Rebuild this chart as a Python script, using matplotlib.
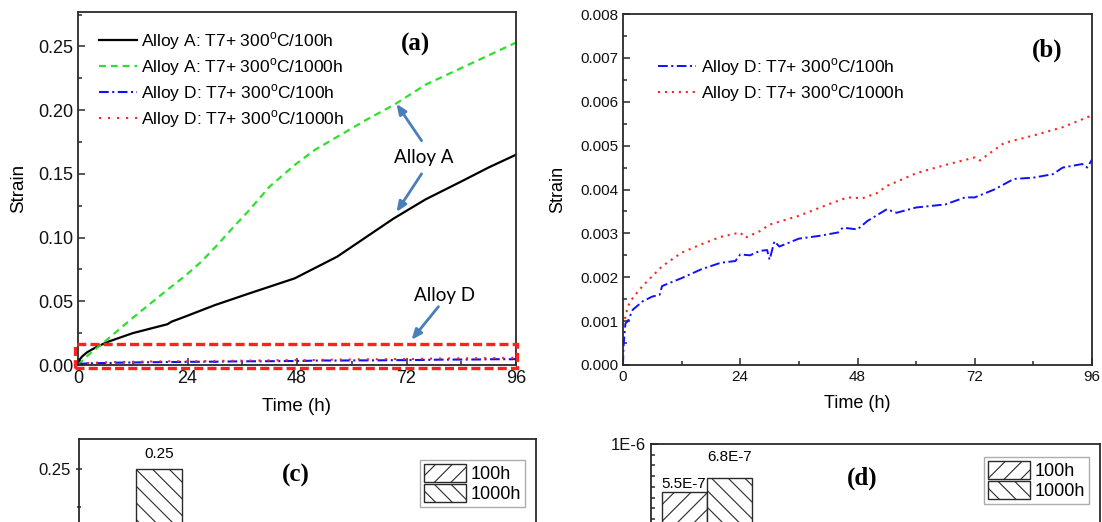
import matplotlib
matplotlib.use("Agg")
import matplotlib.pyplot as plt
from matplotlib.patches import Rectangle
from matplotlib.ticker import MultipleLocator, FixedLocator, FormatStrFormatter

W, H = 1102, 522

plt.rcParams['font.family'] = ['Liberation Sans', 'DejaVu Sans']
plt.rcParams['mathtext.fontset'] = 'custom'
plt.rcParams['mathtext.rm'] = 'Liberation Sans'
plt.rcParams['lines.scale_dashes'] = False
plt.rcParams['hatch.linewidth'] = 0.8

# ---- data ----
# (a) Alloy A
t_a100 = [0, 0.5, 1, 2, 4, 6.4, 12, 19.6, 20.5, 23.5, 30, 37.4, 47.5, 56.8, 63, 69.2, 76.2, 84, 90, 96]
s_a100 = [0, 0.005, 0.007, 0.010, 0.014, 0.018, 0.025, 0.032, 0.034, 0.038, 0.047, 0.056, 0.068,
          0.085, 0.100, 0.115, 0.130, 0.144, 0.155, 0.165]
t_a1000 = [0, 2, 6.4, 12, 19.6, 23.5, 27, 30.5, 34, 37.4, 42, 47.5, 52, 56.8, 63, 69.2, 76.2, 84, 90, 96]
s_a1000 = [0, 0.007, 0.020, 0.037, 0.059, 0.070, 0.081, 0.094, 0.108, 0.121, 0.140, 0.157, 0.169,
           0.179, 0.192, 0.204, 0.220, 0.233, 0.243, 0.253]

# (b) Alloy D
t_d100 = [0, 0.1, 0.3, 0.5, 1, 2, 4, 6, 7.5, 8, 12, 16, 20, 23, 24, 26, 28, 29.5, 30, 31, 32, 36, 40,
          44, 45, 48, 50, 54, 56, 60, 66, 70, 72, 76, 80, 84, 88, 90, 94, 95, 96]
s_d100 = [0, 0.0004, 0.0007, 0.00095, 0.0010, 0.00126, 0.00145, 0.00156, 0.0016, 0.0018, 0.00198,
          0.00218, 0.00233, 0.00237, 0.00252, 0.0025, 0.0026, 0.00262, 0.0024, 0.00282, 0.0027,
          0.00288, 0.00294, 0.00302, 0.00313, 0.00309, 0.00328, 0.00355, 0.00347, 0.00359, 0.00366,
          0.00382, 0.00382, 0.0040, 0.00424, 0.00427, 0.00435, 0.0045, 0.00458, 0.0045, 0.00468]
t_d1000 = [0, 0.5, 1, 2, 4, 8, 12, 16, 20, 24, 25, 28, 30, 36, 42, 46, 49, 52, 54, 60, 66, 72, 73,
           78, 84, 90, 96]
s_d1000 = [0.0009, 0.0011, 0.00134, 0.00153, 0.0018, 0.00225, 0.00256, 0.00275, 0.00292, 0.00302,
           0.0029, 0.00305, 0.0032, 0.0034, 0.00366, 0.00382, 0.0038, 0.00392, 0.00408, 0.00437,
           0.00456, 0.00473, 0.00466, 0.00506, 0.00523, 0.00542, 0.00569]

# (c), (d) bars
bar_pos = [1]
c_100 = [0.165]
c_1000 = [0.25]
d_100 = [5.5e-7]
d_1000 = [6.8e-7]

lbl_a100 = r'Alloy A: T7+ 300$^{\rm o}$C/100h'
lbl_a1000 = r'Alloy A: T7+ 300$^{\rm o}$C/1000h'
lbl_d100 = r'Alloy D: T7+ 300$^{\rm o}$C/100h'
lbl_d1000 = r'Alloy D: T7+ 300$^{\rm o}$C/1000h'

GREEN = '#2ee02e'
BLUE = '#1010ff'
RED = '#ff2020'
ARROW = '#4a7ebb'
SPINE = '#2a2a2a'


def px(x0, y0, x1, y1):
    return [x0 / W, 1 - y1 / H, (x1 - x0) / W, (y1 - y0) / H]


def style(ax, fs):
    for s in ax.spines.values():
        s.set_color(SPINE)
        s.set_linewidth(1.3)
    ax.tick_params(which='both', direction='in', colors=SPINE, labelcolor='#111111',
                   labelsize=fs, width=1.1, top=False, right=False)
    ax.tick_params(which='major', length=5)
    ax.tick_params(which='minor', length=3)


fig = plt.figure(figsize=(W / 100, H / 100), dpi=100)

# ---------- (a) ----------
ax = fig.add_axes(px(78, 12, 516, 365))
ax.plot(t_a100, s_a100, color='black', lw=1.6, label=lbl_a100)
ax.plot(t_a1000, s_a1000, color=GREEN, lw=1.6, dashes=(5, 3.5), label=lbl_a1000)
ax.plot(t_d100, s_d100, color=BLUE, lw=1.5, dashes=(7, 2.5, 1.5, 2.5), label=lbl_d100)
ax.plot(t_d1000, s_d1000, color=RED, lw=1.5, dashes=(1.5, 5), label=lbl_d1000)
ax.set_xlim(0, 96)
ax.set_ylim(0, 0.277)
ax.xaxis.set_major_locator(MultipleLocator(24))
ax.xaxis.set_minor_locator(MultipleLocator(12))
ax.yaxis.set_major_locator(MultipleLocator(0.05))
ax.yaxis.set_minor_locator(MultipleLocator(0.025))
ax.yaxis.set_major_formatter(FormatStrFormatter('%.2f'))
style(ax, 13)
ax.set_xlabel('Time (h)', fontsize=13.5, labelpad=8)
ax.set_ylabel('Strain', fontsize=13.5, labelpad=8)
ax.legend(loc='upper left', bbox_to_anchor=(99 / W, 1 - 30 / H), bbox_transform=fig.transFigure,
          frameon=False, fontsize=12.5, handlelength=2.2, handletextpad=0.2, labelspacing=0.25,
          borderpad=0, borderaxespad=0)
ax.add_patch(Rectangle((-0.6, -0.0025), 96.8, 0.019, fill=False, edgecolor=RED, lw=2.4,
                       linestyle=(0, (6.5, 3)), clip_on=False, zorder=5))
ax.text(415, H - 44, '(a)', transform=None, fontsize=18, fontweight='bold',
        family='Liberation Serif', ha='center', va='center')
fig.text(424 / W, 1 - 157 / H, 'Alloy A', family='Lato', fontsize=13.5, ha='center', va='center')
fig.text(445 / W, 1 - 295 / H, 'Alloy D', family='Lato', fontsize=13.5, ha='center', va='center')
aprops = dict(arrowstyle='-|>,head_length=0.6,head_width=0.25', color=ARROW, lw=2, shrinkA=0, shrinkB=0)
ax.annotate('', xy=(69.8, 0.205), xytext=(75.3, 0.176), arrowprops=aprops)
ax.annotate('', xy=(69.8, 0.120), xytext=(75.3, 0.150), arrowprops=aprops)
ax.annotate('', xy=(73.1, 0.0197), xytext=(79.0, 0.0458), arrowprops=aprops)

# ---------- (b) ----------
bx = fig.add_axes(px(623, 14, 1092, 365))
bx.plot(t_d100, s_d100, color=BLUE, lw=1.4, dashes=(7, 2.5, 1.5, 2.5), label=lbl_d100)
bx.plot(t_d1000, s_d1000, color=RED, lw=1.5, dashes=(1.5, 3.5), label=lbl_d1000)
bx.set_xlim(0, 96)
bx.set_ylim(0, 0.008)
bx.xaxis.set_major_locator(MultipleLocator(24))
bx.xaxis.set_minor_locator(MultipleLocator(12))
bx.yaxis.set_major_locator(MultipleLocator(0.001))
bx.yaxis.set_minor_locator(MultipleLocator(0.0005))
bx.yaxis.set_major_formatter(FormatStrFormatter('%.3f'))
style(bx, 11)
bx.set_xlabel('Time (h)', fontsize=13, labelpad=8)
bx.set_ylabel('Strain', fontsize=13, labelpad=10)
bx.legend(loc='upper left', bbox_to_anchor=(658 / W, 1 - 56 / H), bbox_transform=fig.transFigure,
          frameon=False, fontsize=12.5, handlelength=2.2, handletextpad=0.3, labelspacing=0.25,
          borderpad=0, borderaxespad=0)
bx.text(1047, H - 50, '(b)', transform=None, fontsize=18, fontweight='bold',
        family='Liberation Serif', ha='center', va='center')

# ---------- (c) ----------
w = 0.4
cx = fig.add_axes(px(79, 439, 536, 849))
cx.bar([p - w / 2 for p in bar_pos], c_100, w, facecolor='white', edgecolor=SPINE, hatch='//',
       lw=1, label='100h')
cx.bar([p + w / 2 for p in bar_pos], c_1000, w, facecolor='white', edgecolor=SPINE, hatch='\\\\',
       lw=1, label='1000h')
for p, v in zip(bar_pos, c_1000):
    cx.annotate('%.2f' % v, (p + w / 2, v), xytext=(0, 6), textcoords='offset points',
                ha='center', va='bottom', fontsize=11)
cx.set_xlim(0.5, 4.5)
cx.set_ylim(0, 0.27)
cx.yaxis.set_major_locator(FixedLocator([0.25]))
cx.yaxis.set_minor_locator(MultipleLocator(0.025))
cx.yaxis.set_major_formatter(FormatStrFormatter('%.2f'))
cx.set_xticks([])
style(cx, 12)
cx.tick_params(axis='y', which='both', direction='inout')
cx.text(296, H - 475, '(c)', transform=None, fontsize=18, fontweight='bold',
        family='Liberation Serif', ha='center', va='center')
lc = cx.legend(loc='upper right', bbox_to_anchor=(525 / W, 1 - 460 / H), bbox_transform=fig.transFigure,
               fontsize=13, fancybox=False, edgecolor='#999999', handlelength=2.3, handleheight=1.2,
               labelspacing=0.05, borderpad=0.2, handletextpad=0.3, borderaxespad=0)
lc.get_frame().set_linewidth(1)

# ---------- (d) ----------
dx = fig.add_axes(px(651, 444, 1100, 551))
dx.bar([p - w / 2 for p in bar_pos], d_100, w, facecolor='white', edgecolor=SPINE, hatch='//',
       lw=1, label='100h')
dx.bar([p + w / 2 for p in bar_pos], d_1000, w, facecolor='white', edgecolor=SPINE, hatch='\\\\',
       lw=1, label='1000h')
dx.annotate('5.5E-7', (bar_pos[0] - w / 2, d_100[0]), xytext=(-1, 1), textcoords='offset points',
            ha='center', va='bottom', fontsize=11)
dx.annotate('6.8E-7', (bar_pos[0] + w / 2, d_1000[0]), xytext=(0, 10), textcoords='offset points',
            ha='center', va='bottom', fontsize=11)
dx.set_xlim(0.5, 4.5)
dx.set_ylim(0, 1e-6)
dx.set_yticks([1e-6])
dx.set_yticklabels(['1E-6'])
dx.yaxis.set_minor_locator(MultipleLocator(1e-7))
dx.set_xticks([])
style(dx, 12)
dx.text(862, H - 478, '(d)', transform=None, fontsize=18, fontweight='bold',
        family='Liberation Serif', ha='center', va='center')
ld = dx.legend(loc='upper right', bbox_to_anchor=(1089 / W, 1 - 457 / H), bbox_transform=fig.transFigure,
               fontsize=13, fancybox=False, edgecolor='#999999', handlelength=2.3, handleheight=1.2,
               labelspacing=0.05, borderpad=0.2, handletextpad=0.3, borderaxespad=0)
ld.get_frame().set_linewidth(1)

fig.savefig('out.png', dpi=100)
